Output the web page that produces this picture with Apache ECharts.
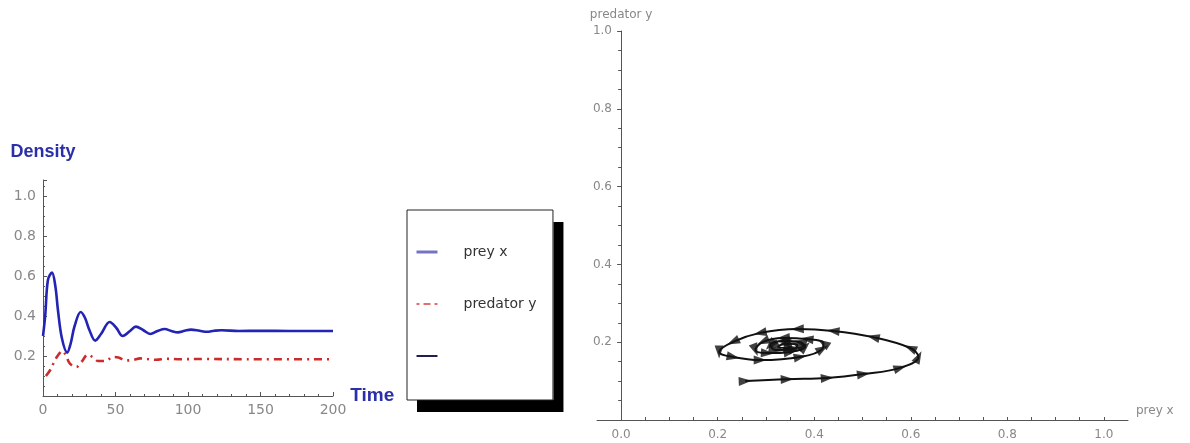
<!DOCTYPE html>
<html>
<head>
<meta charset="utf-8">
<script src="https://cdn.jsdelivr.net/npm/echarts@6/dist/echarts.min.js"></script>
<style>
html,body{margin:0;padding:0;background:#fff;}
#c{width:1190px;height:443px;}
</style>
</head>
<body>
<div id="c"></div>
<script>
// ---- Left chart: time series ----
const preyT = [0, 1.5, 3.4, 6.2, 8.5, 10.3, 13, 16.7, 19, 21.8, 26, 29, 32, 36, 40, 46, 50.6, 55, 60, 64, 69, 74, 79, 84, 88.5, 93, 97.7, 102, 108, 113, 118, 123, 135, 150, 170, 200];
const preyX = [0.30, 0.40, 0.58, 0.617, 0.55, 0.43, 0.29, 0.217, 0.26, 0.35, 0.42, 0.39, 0.33, 0.277, 0.31, 0.37, 0.34, 0.30, 0.325, 0.347, 0.33, 0.31, 0.325, 0.335, 0.325, 0.318, 0.326, 0.332, 0.326, 0.321, 0.326, 0.329, 0.325, 0.326, 0.325, 0.325];
const predT = [2, 5, 7, 10, 13.5, 16, 18.4, 23, 26.5, 31, 35, 38, 43.6, 48, 52, 57, 62, 67, 72, 78, 85, 95, 110, 140, 200];
const predY = [0.10, 0.13, 0.16, 0.20, 0.225, 0.20, 0.163, 0.145, 0.17, 0.207, 0.19, 0.175, 0.176, 0.195, 0.192, 0.178, 0.18, 0.188, 0.185, 0.181, 0.186, 0.184, 0.185, 0.184, 0.184];
const leftXTicks = [0, 50, 100, 150, 200];
const leftYTicks = [0.2, 0.4, 0.6, 0.8, 1.0];

// ---- Right chart: phase portrait ----
const spiralX = [0.257, 0.344, 0.427, 0.502, 0.578, 0.616, 0.599, 0.522, 0.439, 0.365, 0.288, 0.232, 0.203, 0.232, 0.288, 0.371, 0.417, 0.419, 0.385, 0.336, 0.294, 0.278, 0.303, 0.350, 0.381, 0.371, 0.336, 0.309, 0.319, 0.360, 0.365, 0.340, 0.325, 0.350];
const spiralY = [0.100, 0.105, 0.108, 0.118, 0.134, 0.162, 0.185, 0.213, 0.229, 0.234, 0.224, 0.201, 0.175, 0.162, 0.154, 0.162, 0.183, 0.198, 0.208, 0.211, 0.201, 0.180, 0.172, 0.175, 0.188, 0.200, 0.203, 0.193, 0.180, 0.183, 0.193, 0.196, 0.188, 0.185];
const rightTicks = [0.0, 0.2, 0.4, 0.6, 0.8, 1.0];

const labelFont = 'DejaVu Sans';
const isTick = (v, arr) => arr.some(t => Math.abs(t - v) < 1e-6);

const chart = echarts.init(document.getElementById('c'), null, {renderer: 'canvas'});

const legendItems = [
  {name: 'prey x', itemStyle: {color: '#7474c4', opacity: 0}, lineStyle: {color: '#7474c4', width: 3, type: 'solid'}},
  {name: 'predator y', itemStyle: {color: '#e07070', opacity: 0}, lineStyle: {color: '#e07070', width: 2, type: [3, 4, 7, 4]}},
  {name: ' ', itemStyle: {color: '#202050', opacity: 0}, lineStyle: {color: '#202050', width: 2, type: 'solid'}}
];
const legendBase = {
  orient: 'vertical', left: 407, top: 210, selectedMode: false,
  padding: [35, 17, 37, 8], itemGap: 38, itemWidth: 21, itemHeight: 14,
  textStyle: {color: '#333', fontSize: 14, fontFamily: labelFont, padding: [0, 0, 0, 21]}
};

const option = {
  animation: false,
  backgroundColor: '#fff',
  grid: [
    {left: 43, right: 857, top: 180, bottom: 47},
    {left: 597, right: 62, top: 31, bottom: 23}
  ],
  legend: [
    Object.assign({}, legendBase, {
      backgroundColor: '#fff', borderWidth: 0,
      shadowColor: '#000', shadowBlur: 0, shadowOffsetX: 10, shadowOffsetY: 12,
      data: legendItems
    }),
    Object.assign({}, legendBase, {
      backgroundColor: 'rgba(0,0,0,0)', borderColor: '#222', borderWidth: 1,
      textStyle: Object.assign({}, legendBase.textStyle, {color: 'rgba(0,0,0,0)'}),
      data: legendItems.map(d => ({name: d.name, itemStyle: {opacity: 0}, lineStyle: {opacity: 0}}))
    })
  ],
  xAxis: [
    {
      gridIndex: 0, type: 'value', min: 0, max: 200, interval: 50,
      name: 'Time', nameLocation: 'end', nameGap: 14,
      nameTextStyle: {color: '#2b2fa8', fontSize: 19, fontWeight: 'bold', fontFamily: 'Liberation Sans Narrow, Liberation Sans'},
      axisLine: {show: true, onZero: false, lineStyle: {color: '#555', width: 1}},
      axisTick: {show: true, inside: true, length: 4, lineStyle: {color: '#555'}},
      minorTick: {show: true, splitNumber: 5, length: 2, lineStyle: {color: '#555'}},
      splitLine: {show: false},
      axisLabel: {color: '#888', fontSize: 14, fontFamily: labelFont, margin: 7,
        formatter: v => isTick(v, leftXTicks) ? String(v) : ''}
    },
    {
      gridIndex: 1, type: 'value', min: -0.05, max: 1.05, interval: 0.05,
      name: 'prey x', nameLocation: 'end', nameGap: 8,
      nameTextStyle: {color: '#888', fontSize: 12, fontFamily: labelFont, verticalAlign: 'bottom', padding: [0, 0, 3, 0]},
      axisLine: {show: true, onZero: false, lineStyle: {color: '#555', width: 1}},
      axisTick: {show: true, inside: true, length: 3, lineStyle: {color: '#555'}},
      splitLine: {show: false},
      axisLabel: {color: '#888', fontSize: 12, fontFamily: labelFont, margin: 9, showMinLabel: false, showMaxLabel: false,
        formatter: v => isTick(v, rightTicks) ? v.toFixed(1) : ''}
    }
  ],
  yAxis: [
    {
      gridIndex: 0, type: 'value', min: 0, max: 1.08, interval: 0.2,
      name: 'Density', nameLocation: 'end', nameGap: 19,
      nameTextStyle: {color: '#2b2fa8', fontSize: 18, fontWeight: 'bold', fontFamily: 'Liberation Sans Narrow, Liberation Sans', align: 'center'},
      axisLine: {show: true, onZero: false, lineStyle: {color: '#555', width: 1}},
      axisTick: {show: true, inside: true, length: 4, lineStyle: {color: '#555'}},
      minorTick: {show: true, splitNumber: 4, length: 2, lineStyle: {color: '#555'}},
      splitLine: {show: false},
      axisLabel: {color: '#888', fontSize: 14, fontFamily: labelFont, margin: 7,
        formatter: v => isTick(v, leftYTicks) ? v.toFixed(1) : ''}
    },
    {
      gridIndex: 1, type: 'value', min: 0, max: 1.0, interval: 0.2,
      name: 'predator y', nameLocation: 'end', nameGap: 10,
      nameTextStyle: {color: '#888', fontSize: 12, fontFamily: labelFont, align: 'center'},
      axisLine: {show: true, onZero: true, lineStyle: {color: '#555', width: 1}},
      axisTick: {show: true, inside: false, length: 4, lineStyle: {color: '#555'}},
      minorTick: {show: true, splitNumber: 4, length: 3, lineStyle: {color: '#555'}},
      splitLine: {show: false},
      axisLabel: {color: '#888', fontSize: 12, fontFamily: labelFont, margin: -15,
        formatter: v => isTick(v, rightTicks.slice(1)) ? v.toFixed(1) : ''}
    }
  ],
  series: [
    {
      name: 'prey x', type: 'line', xAxisIndex: 0, yAxisIndex: 0,
      data: preyT.map((t, i) => [t, preyX[i]]),
      smooth: 0.35, symbol: 'none',
      lineStyle: {color: '#2323b4', width: 2.6}, itemStyle: {color: '#2323b4'}
    },
    {
      name: 'predator y', type: 'line', xAxisIndex: 0, yAxisIndex: 0,
      data: predT.map((t, i) => [t, predY[i]]),
      smooth: 0.35, symbol: 'none',
      lineStyle: {color: '#cc2b2b', width: 2.6, type: [8, 5, 2, 5]}, itemStyle: {color: '#cc2b2b'}
    },
    {
      name: ' ', type: 'line', xAxisIndex: 0, yAxisIndex: 0, data: [], symbol: 'none',
      lineStyle: {color: '#202050', width: 2}, itemStyle: {color: '#202050'}
    },
    {
      id: 'spiral', type: 'line', xAxisIndex: 1, yAxisIndex: 1,
      data: spiralX.map((x, i) => [x, spiralY[i]]),
      smooth: 0.4, symbol: 'none',
      lineStyle: {color: '#111', width: 2}
    },
    {
      id: 'arrows', type: 'scatter', xAxisIndex: 1, yAxisIndex: 1,
      data: spiralX.map((x, i) => [x, spiralY[i]]),
      symbol: 'triangle', symbolSize: [9, 13],
      itemStyle: {color: '#111'}, z: 5
    }
  ]
};

chart.setOption(option);

// orient arrowheads along the path using the library's own scale
const pix = spiralX.map((x, i) => chart.convertToPixel({xAxisIndex: 1, yAxisIndex: 1}, [x, spiralY[i]]));
const arrowData = spiralX.map((x, i) => {
  const a = pix[Math.max(0, i - 1)];
  const b = pix[Math.min(pix.length - 1, i + 1)];
  const ang = Math.atan2(-(b[1] - a[1]), b[0] - a[0]) * 180 / Math.PI;
  return {value: [x, spiralY[i]], symbolRotate: ang - 90};
});
chart.setOption({series: [{id: 'arrows', data: arrowData}]});
</script>
</body>
</html>
